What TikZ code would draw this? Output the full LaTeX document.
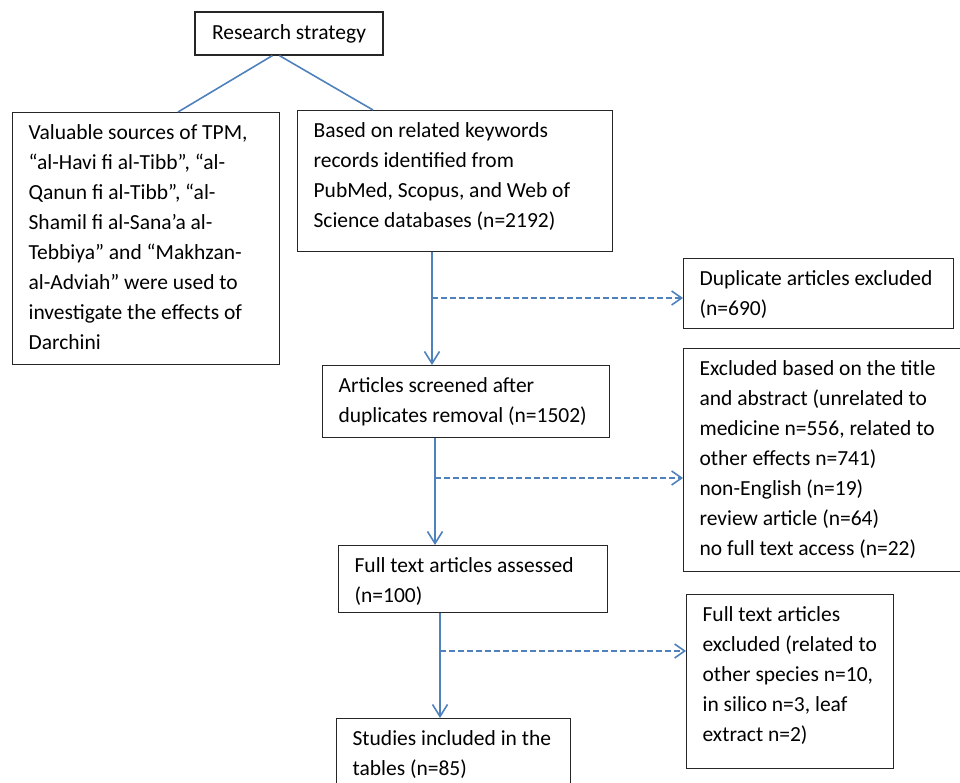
\documentclass[tikz,border=0pt]{standalone}
\usepackage{fontspec}
\setmainfont{Carlito}
\usetikzlibrary{arrows.meta,calc}
\definecolor{lineblue}{HTML}{4F81BD}
\newcommand\boxlines[3]{\begin{minipage}[t][#2][t]{#1}\vspace{6pt}\begin{tabular}[t]{@{}l@{}}#3\end{tabular}\end{minipage}}
\begin{document}
\begin{tikzpicture}[x=1pt,y=-1pt,
  font=\fontsize{21.5pt}{30pt}\selectfont,
  box/.style={draw=black!85, line width=1.2pt, inner xsep=16pt, inner ysep=0pt, anchor=north west},
  conn/.style={draw=lineblue, line width=1.6pt},
  arr/.style={conn, -{Straight Barb[length=12pt,width=15pt,line width=1.6pt]}},
  darr/.style={conn, dash pattern=on 6pt off 3pt, -{Straight Barb[length=10pt,width=14pt,line width=1.6pt]}}]
\useasboundingbox (0,0) rectangle (960,783);
\node[draw=black!85, line width=1.2pt, minimum width=188pt, minimum height=43pt, inner sep=0pt] (R) at (289,33.5) {Research strategy};
\node[box] (L) at (12,112) {\boxlines{235pt}{252pt}{Valuable sources of TPM,\\ “al-Havi fi al-Tibb”, “al-\\ Qanun fi al-Tibb”, “al-\\ Shamil fi al-Sana’a al-\\ Tebbiya” and “Makhzan-\\ al-Adviah” were used to\\ investigate the effects of\\ Darchini}};
\node[box] (B) at (297,110) {\boxlines{283pt}{141pt}{Based on related keywords\\ records identified from\\ PubMed, Scopus, and Web of\\ Science databases (n=2192)}};
\node[box] (D) at (683,258) {\boxlines{238pt}{70pt}{Duplicate articles excluded\\ (n=690)}};
\node[box] (A) at (322,365) {\boxlines{255pt}{72pt}{Articles screened after\\ duplicates removal (n=1502)}};
\node[box] (E) at (683,348) {\boxlines{260pt}{223pt}{Excluded based on the title\\ and abstract (unrelated to\\ medicine n=556, related to\\ other effects n=741)\\ non-English (n=19)\\ review article (n=64)\\ no full text access (n=22)}};
\node[box] (F) at (338,545) {\boxlines{237pt}{67pt}{Full text articles assessed\\ (n=100)}};
\node[box] (X) at (686,594) {\boxlines{175pt}{174pt}{Full text articles\\ excluded (related to\\ other species n=10,\\ in silico n=3, leaf\\ extract n=2)}};
\node[box] (S) at (336,718) {\boxlines{202pt}{82pt}{Studies included in the\\ tables (n=85)}};
\draw[conn] ($(R.south west)+(78,0)$) -- ($(L.north west)+(166,0)$);
\draw[conn] ($(R.south west)+(85,0)$) -- ($(B.north west)+(76,0)$);
\draw[arr] ($(B.south west)+(135,0)$) -- ($(A.north west)+(110,0)$);
\coordinate (d1) at (432,298);
\draw[darr] (d1) -- (D.west |- d1);
\draw[arr] ($(A.south west)+(113,0)$) -- ($(F.north west)+(97,0)$);
\coordinate (d2) at (435,478);
\draw[darr] (d2) -- (E.west |- d2);
\draw[arr] ($(F.south west)+(102,0)$) -- ($(S.north west)+(104,0)$);
\coordinate (d3) at (440,651);
\draw[darr] (d3) -- (X.west |- d3);
\end{tikzpicture}
\end{document}
